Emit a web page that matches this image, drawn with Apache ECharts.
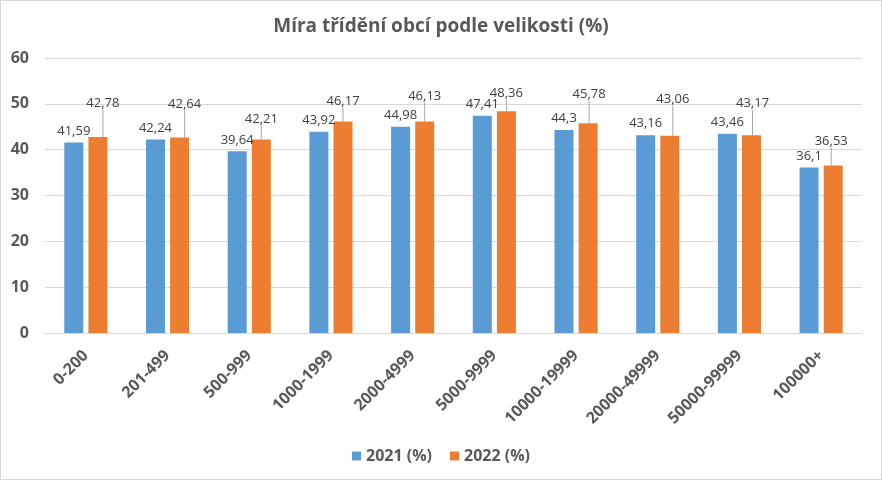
<!DOCTYPE html>
<html>
<head>
<meta charset="utf-8">
<script src="https://cdn.jsdelivr.net/npm/echarts@6/dist/echarts.min.js"></script>
<style>
html,body{margin:0;padding:0;background:#fff;}
#c{width:880px;height:478px;border:1px solid #d9d9d9;}
</style>
</head>
<body>
<div id="c"></div>
<script>
const categories = ['0-200','201-499','500-999','1000-1999','2000-4999','5000-9999','10000-19999','20000-49999','50000-99999','100000+'];
const values2021 = [41.59, 42.24, 39.64, 43.92, 44.98, 47.41, 44.3, 43.16, 43.46, 36.1];
const values2022 = [42.78, 42.64, 42.21, 46.17, 46.13, 48.36, 45.78, 43.06, 43.17, 36.53];
const yTicks = {min: 0, max: 60, interval: 10};

// label placement (styling only): extra shift of the moved 2022 labels
const label2022Dx = [5, 5, 0, 0, 0, 0, 1, 3, 1, -2];
const label2022Dy = [-22, -22, -9, -9, -14, -7, -17, -25, -20, -13];

const fmt = p => String(p.value).replace('.', ',');
const font = '"Open Sans", "Noto Sans", sans-serif';
const chart = echarts.init(document.getElementById('c'));
chart.setOption({
  animation: false,
  title: {
    text: 'Míra třídění obcí podle velikosti (%)',
    left: 'center', top: 11,
    textStyle: {fontFamily: font, fontSize: 19, fontWeight: 'bold', color: '#595959'}
  },
  legend: {
    bottom: 10, left: 'center',
    itemWidth: 9, itemHeight: 9, itemGap: 18,
    icon: 'rect',
    textStyle: {fontFamily: font, fontSize: 16, fontWeight: 'bold', color: '#595959'}
  },
  grid: {left: 44, right: 19, top: 57, bottom: 146},
  xAxis: {
    type: 'category', data: categories,
    axisTick: {show: false},
    axisLine: {lineStyle: {color: '#d9d9d9'}},
    axisLabel: {rotate: 45, fontFamily: font, fontSize: 16, fontWeight: 'bold', color: '#595959', margin: 20}
  },
  yAxis: {
    type: 'value', min: yTicks.min, max: yTicks.max, interval: yTicks.interval,
    axisLabel: {fontFamily: font, fontSize: 16, fontWeight: 'bold', color: '#595959', margin: 16},
    splitLine: {lineStyle: {color: '#d9d9d9'}}
  },
  series: [
    {
      name: '2021 (%)', type: 'bar', data: values2021,
      barWidth: 19, barGap: '27%',
      itemStyle: {color: '#5b9bd5'},
      label: {show: true, position: 'top', distance: 5, formatter: fmt, fontFamily: font, fontSize: 13, color: '#404040'}
    },
    {
      name: '2022 (%)', type: 'bar', data: values2022,
      barWidth: 19,
      itemStyle: {color: '#ed7d31'},
      label: {show: true, position: 'top', distance: 5, formatter: fmt, fontFamily: font, fontSize: 13, color: '#404040'},
      labelLayout: p => ({dx: label2022Dx[p.dataIndex], dy: label2022Dy[p.dataIndex]}),
      labelLine: {show: true, lineStyle: {color: '#a6a6a6', width: 1}}
    }
  ]
});
</script>
</body>
</html>
